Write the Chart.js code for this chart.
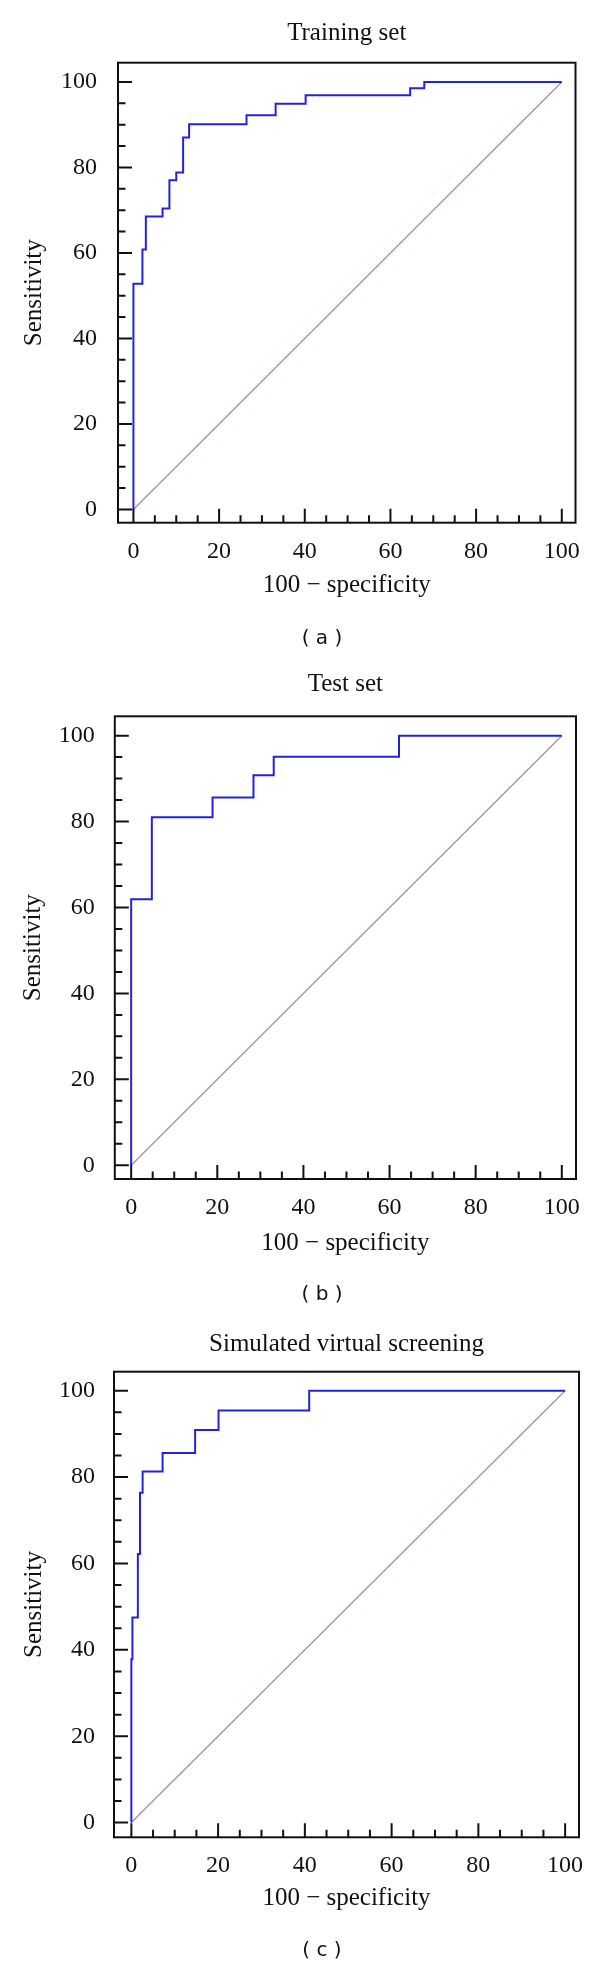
<!DOCTYPE html>
<html>
<head>
<meta charset="utf-8">
<title>ROC curves</title>
<script src="https://cdn.jsdelivr.net/npm/chart.js@4.4.0/dist/chart.umd.min.js"></script>
<style>
  body { margin: 0; background: #fff; }
  #page { position: relative; width: 600px; height: 1965px; overflow: hidden; background: #fff; }
  #page canvas { position: absolute; left: 0; }
  .cap { position: absolute; left: 262px; width: 120px; text-align: center;
         font-family: "DejaVu Sans", sans-serif; font-size: 20px; line-height: 22px; color: #111; }
</style>
</head>
<body>
<div id="page">
  <canvas id="rocA" width="600" height="660" style="top:0px"></canvas>
  <canvas id="rocB" width="600" height="660" style="top:655px"></canvas>
  <canvas id="rocC" width="600" height="655" style="top:1310px"></canvas>
  <div class="cap" style="top:626px">( a )</div>
  <div class="cap" style="top:1282px">( b )</div>
  <div class="cap" style="top:1938px">( c )</div>
</div>
<script>
'use strict';

// ROC curves: x = 100 - specificity, y = sensitivity
var trainFpr = [0, 0, 2.1, 2.9, 6.8, 8.4, 10.0, 11.6, 13.0, 26.4, 33.2, 40.2, 64.6, 67.9, 100];
var trainTpr = [0, 52.8, 60.8, 68.5, 70.4, 77.0, 78.8, 87.0, 90.1, 92.2, 94.9, 96.9, 98.5, 100, 100];

var testFpr = [0, 0, 4.8, 18.9, 28.4, 33.1, 62.2, 100];
var testTpr = [0, 61.9, 81.0, 85.6, 90.8, 95.1, 100, 100];

var screenFpr = [0, 0, 0.25, 1.5, 2.0, 2.6, 7.2, 14.7, 20.1, 41.0, 100];
var screenTpr = [0, 37.8, 47.5, 62.2, 76.4, 81.3, 85.6, 90.9, 95.4, 100, 100];

// reference diagonal
var diagX = [0, 100];
var diagY = [0, 100];

var tickValues = [0, 20, 40, 60, 80, 100];
var minorStep = 5;

var titles = ['Training set', 'Test set', 'Simulated virtual screening'];
var xTitle = '100 \u2212 specificity';
var yTitle = 'Sensitivity';

// where each panel sits on the page (px)
var panels = [
  { id: 'rocA', top: 0, height: 660, area: { l: 118, r: 575.5, t: 62.7, b: 522.7 },
    titleY: 33, tickY: 544, xTitleY: 585, yTitleX: 34.5, yGap: 13, x: [-3.6, 103.2], y: [-3.1, 104.5] },
  { id: 'rocB', top: 655, height: 660, area: { l: 114.8, r: 576, t: 716.3, b: 1179 },
    titleY: 684, tickY: 1200, xTitleY: 1243, yTitleX: 33, yGap: 12, x: [-3.8, 103.3], y: [-3.2, 104.5] },
  { id: 'rocC', top: 1310, height: 655, area: { l: 114, r: 579, t: 1371.7, b: 1837.3 },
    titleY: 1344, tickY: 1858, xTitleY: 1898, yTitleX: 34, yGap: 11, x: [-4.0, 103.2], y: [-3.4, 104.4] }
];

var ink = '#111';
var serif = 'Liberation Serif';

function toPoints(xs, ys) {
  return xs.map(function (x, i) { return { x: x, y: ys[i] }; });
}

// box round the plot plus inward major/minor ticks
var framePlugin = {
  id: 'frame',
  afterDatasetsDraw: function (chart) {
    var a = chart.chartArea, ctx = chart.ctx;
    var xs = chart.scales.x, ys = chart.scales.y;
    ctx.save();
    ctx.strokeStyle = ink;
    ctx.lineWidth = 2;
    ctx.strokeRect(a.left, a.top, a.right - a.left, a.bottom - a.top);
    ctx.beginPath();
    for (var v = 0; v <= 100; v += minorStep) {
      var len = v % 20 === 0 ? 14 : 7.5;
      var px = xs.getPixelForValue(v);
      ctx.moveTo(px, a.bottom);
      ctx.lineTo(px, a.bottom - len);
      var py = ys.getPixelForValue(v);
      ctx.moveTo(a.left, py);
      ctx.lineTo(a.left + len, py);
    }
    ctx.stroke();
    ctx.restore();
  }
};

function makeChart(p, fpr, tpr, title) {
  var tickSize = 24, titleSize = 25, lh = 1.2;
  var rel = function (y) { return y - p.top; };
  var titlePadTop = rel(p.titleY) - titleSize * lh / 2;
  var titlePadBottom = rel(p.area.t) - titlePadTop - titleSize * lh;
  var xAxisH = p.height - rel(p.area.b);
  var tickFont = { family: serif, size: tickSize };
  var titleFont = { family: serif, size: titleSize };

  return new Chart(document.getElementById(p.id).getContext('2d'), {
    type: 'scatter',
    data: {
      datasets: [
        // horizontal run first, then the rise (Chart.js 'before' draws x then y)
        { data: toPoints(fpr, tpr), showLine: true, stepped: 'before', fill: false,
          borderColor: '#2222e0', borderWidth: 2, pointRadius: 0 },
        { data: toPoints(diagX, diagY), showLine: true, fill: false,
          borderColor: '#a793ad', borderWidth: 1.4, pointRadius: 0 }
      ]
    },
    options: {
      responsive: false,
      animation: false,
      layout: { padding: { left: 0, right: 600 - p.area.r, top: 0, bottom: 0 } },
      plugins: {
        legend: { display: false },
        tooltip: { enabled: false },
        title: {
          display: true, text: title, fullSize: false, color: ink,
          font: { family: serif, size: titleSize, weight: 'normal' },
          padding: { top: titlePadTop, bottom: titlePadBottom }
        }
      },
      scales: {
        x: {
          type: 'linear', min: p.x[0], max: p.x[1],
          afterBuildTicks: function (s) { s.ticks = tickValues.map(function (v) { return { value: v }; }); },
          afterFit: function (s) { s.height = xAxisH; },
          grid: { display: false },
          border: { display: false },
          ticks: { padding: p.tickY - p.area.b - tickSize * lh / 2, maxRotation: 0, autoSkip: false,
                   color: ink, font: tickFont },
          title: { display: true, text: xTitle, color: ink, font: titleFont,
                   padding: { top: 0, bottom: p.height - rel(p.xTitleY) - titleSize * lh / 2 } }
        },
        y: {
          type: 'linear', min: p.y[0], max: p.y[1],
          afterBuildTicks: function (s) { s.ticks = tickValues.map(function (v) { return { value: v }; }); },
          afterFit: function (s) { s.width = p.area.l; },
          grid: { display: false },
          border: { display: false },
          ticks: { padding: p.yGap, autoSkip: false, color: ink, font: tickFont },
          title: { display: true, text: yTitle, color: ink, font: titleFont,
                   padding: { top: p.yTitleX - titleSize * lh / 2, bottom: 0 } }
        }
      }
    },
    plugins: [framePlugin]
  });
}

makeChart(panels[0], trainFpr, trainTpr, titles[0]);
makeChart(panels[1], testFpr, testTpr, titles[1]);
makeChart(panels[2], screenFpr, screenTpr, titles[2]);
</script>
</body>
</html>
